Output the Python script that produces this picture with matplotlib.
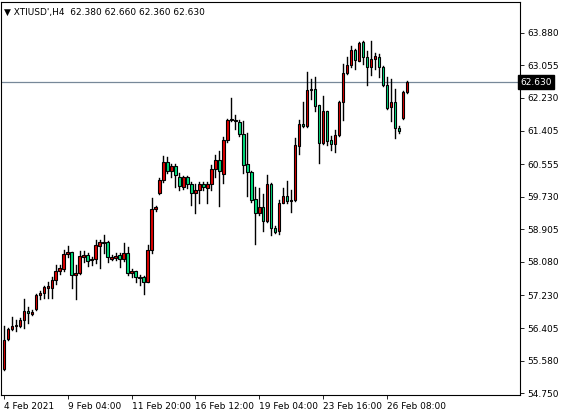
import matplotlib
matplotlib.use("Agg")
import matplotlib.pyplot as plt
from matplotlib.patches import Rectangle

# XTIUSD H4 candles
opens = [55.36, 56.13, 56.38, 56.45, 56.45, 56.60, 56.83, 56.77, 56.90, 57.23,
         57.29, 57.41, 57.42, 57.61, 57.84, 57.89, 58.27, 58.32, 57.76, 57.79,
         58.21, 58.25, 58.13, 58.15, 58.49, 58.55, 58.58, 58.16, 58.19, 58.25,
         58.15, 58.30, 57.81, 57.84, 57.71, 57.69, 57.57, 58.37, 59.41, 59.83,
         60.16, 60.62, 60.37, 60.52, 60.23, 59.98, 60.23, 60.05, 59.83, 59.91,
         60.06, 59.96, 60.05, 60.43, 60.67, 60.30, 61.16, 61.66, 61.64, 61.63,
         61.32, 60.57, 60.35, 59.66, 59.31, 59.46, 59.12, 60.05, 58.95, 58.87,
         59.57, 59.76, 59.63, 59.64, 61.01, 61.58, 61.52, 62.43, 62.46, 62.04,
         61.09, 61.90, 61.16, 61.07, 61.30, 62.12, 62.85, 63.07, 63.44, 63.17,
         63.64, 63.27, 63.01, 63.22, 63.27, 63.02, 62.57, 62.01, 62.14, 61.48,
         61.73, 62.38]
highs = [56.45, 56.41, 56.68, 56.62, 56.66, 57.14, 56.95, 56.87, 57.26, 57.34,
         57.46, 57.58, 57.71, 57.99, 57.99, 58.38, 58.47, 58.34, 58.00, 58.35,
         58.35, 58.30, 58.21, 58.63, 58.63, 58.75, 58.60, 58.25, 58.30, 58.31,
         58.55, 58.45, 57.91, 57.86, 57.74, 57.73, 58.50, 59.69, 59.49, 60.20,
         60.75, 60.74, 60.57, 60.57, 60.32, 60.26, 60.25, 60.10, 60.06, 60.10,
         60.11, 60.11, 60.53, 60.79, 60.90, 61.24, 61.71, 62.23, 61.81, 61.66,
         61.64, 61.34, 60.37, 59.98, 59.94, 59.81, 60.27, 60.08, 58.99, 59.64,
         59.96, 60.13, 59.89, 61.21, 61.66, 62.12, 62.90, 62.71, 62.77, 62.06,
         62.29, 61.91, 61.26, 61.41, 62.16, 63.09, 63.26, 63.55, 63.47, 63.64,
         63.68, 63.43, 63.68, 63.38, 63.34, 63.05, 62.75, 62.71, 62.46, 61.51,
         62.40, 62.66]
lows = [55.34, 56.10, 56.36, 56.32, 56.43, 56.41, 56.53, 56.74, 56.87, 57.15,
        57.16, 57.16, 57.16, 57.52, 57.78, 57.86, 58.21, 57.41, 57.15, 57.78,
        58.08, 57.98, 57.99, 58.05, 57.93, 58.30, 58.08, 58.13, 58.13, 57.94,
        58.11, 57.76, 57.71, 57.56, 57.50, 57.26, 57.56, 58.30, 59.37, 59.81,
        60.11, 60.33, 60.23, 59.98, 59.91, 59.93, 59.96, 59.52, 59.31, 59.56,
        59.90, 59.56, 59.90, 60.23, 59.49, 60.08, 61.11, 61.65, 61.45, 61.26,
        60.32, 59.75, 59.60, 58.53, 59.26, 58.87, 59.10, 58.76, 58.80, 58.78,
        59.56, 59.56, 59.35, 59.63, 60.82, 61.49, 61.49, 62.21, 61.90, 60.58,
        61.07, 61.03, 60.92, 60.86, 61.27, 61.68, 62.84, 63.01, 62.96, 63.16,
        63.09, 62.57, 62.80, 62.96, 62.75, 62.54, 61.95, 61.64, 61.22, 61.34,
        61.71, 62.36]
closes = [56.10, 56.38, 56.45, 56.49, 56.61, 56.83, 56.78, 56.82, 57.24, 57.29,
          57.44, 57.46, 57.63, 57.84, 57.93, 58.27, 58.33, 57.76, 57.79, 58.23,
          58.25, 58.11, 58.16, 58.50, 58.58, 58.58, 58.20, 58.21, 58.23, 58.15,
          58.30, 57.79, 57.86, 57.69, 57.68, 57.57, 58.38, 59.41, 59.46, 60.16,
          60.62, 60.37, 60.52, 60.27, 60.01, 60.23, 60.05, 59.83, 59.91, 60.06,
          59.98, 60.06, 60.43, 60.67, 60.37, 61.17, 61.68, 61.70, 61.68, 61.33,
          60.53, 60.36, 59.64, 59.31, 59.46, 59.12, 60.04, 58.95, 58.84, 59.58,
          59.74, 59.63, 59.64, 61.05, 61.58, 61.52, 62.43, 62.46, 62.02, 61.09,
          61.90, 61.14, 61.07, 61.30, 62.14, 62.85, 63.07, 63.44, 63.19, 63.61,
          63.27, 63.01, 63.22, 63.30, 63.01, 62.57, 61.97, 62.14, 61.48, 61.39,
          62.37, 62.63]

y_ticks = [63.880, 63.055, 62.230, 61.405, 60.555, 59.730, 58.905, 58.080,
           57.230, 56.405, 55.580, 54.750]
x_tick_pos = [0, 16, 32, 48, 64, 80, 96]
x_tick_labels = ["4 Feb 2021", "9 Feb 04:00", "11 Feb 20:00", "16 Feb 12:00",
                 "19 Feb 04:00", "23 Feb 16:00", "26 Feb 08:00"]
last_price = 62.630
title = "XTIUSD',H4  62.380 62.660 62.360 62.630"

UP = "#e00000"
DOWN = "#00e080"

W, H = 563, 419
fig = plt.figure(figsize=(W / 100, H / 100), dpi=100)
ax = fig.add_axes([1 / W, (H - 395) / H, 519 / W, 393 / H])

for i, (o, h, l, c) in enumerate(zip(opens, highs, lows, closes)):
    ax.plot([i, i], [l, h], color="black", lw=1.0, zorder=2)
    lo, hi = min(o, c), max(o, c)
    body = max(hi - lo, 0.02)
    ax.add_patch(Rectangle((i - 0.3, lo), 0.6, body, facecolor=UP if c >= o else DOWN,
                           edgecolor="black", lw=0.8, zorder=3))

ax.axhline(last_price, color="#778899", lw=0.9, zorder=1)

ax.set_xlim(-0.7, 129.3)
ax.set_ylim(54.71, 64.66)

ax.yaxis.tick_right()
ax.set_yticks(y_ticks)
ax.set_yticklabels([f"{v:.3f}" for v in y_ticks])
ax.set_xticks(x_tick_pos)
ax.set_xticklabels(x_tick_labels, ha="left")
ax.tick_params(axis="both", labelsize=6.5, length=3, width=0.6, direction="out",
               colors="black", pad=2)
for sp in ax.spines.values():
    sp.set_linewidth(0.8)

ax.text(1.0, last_price, "62.630", transform=ax.get_yaxis_transform(),
        fontsize=6.5, color="white", va="center", ha="left",
        bbox=dict(boxstyle="square,pad=0.25", facecolor="black", edgecolor="black"))
ax.text(0.005, 0.985, "\u25bc " + title, transform=ax.transAxes, fontsize=6.5,
        va="top", ha="left")

fig.savefig("out.png", dpi=100)
